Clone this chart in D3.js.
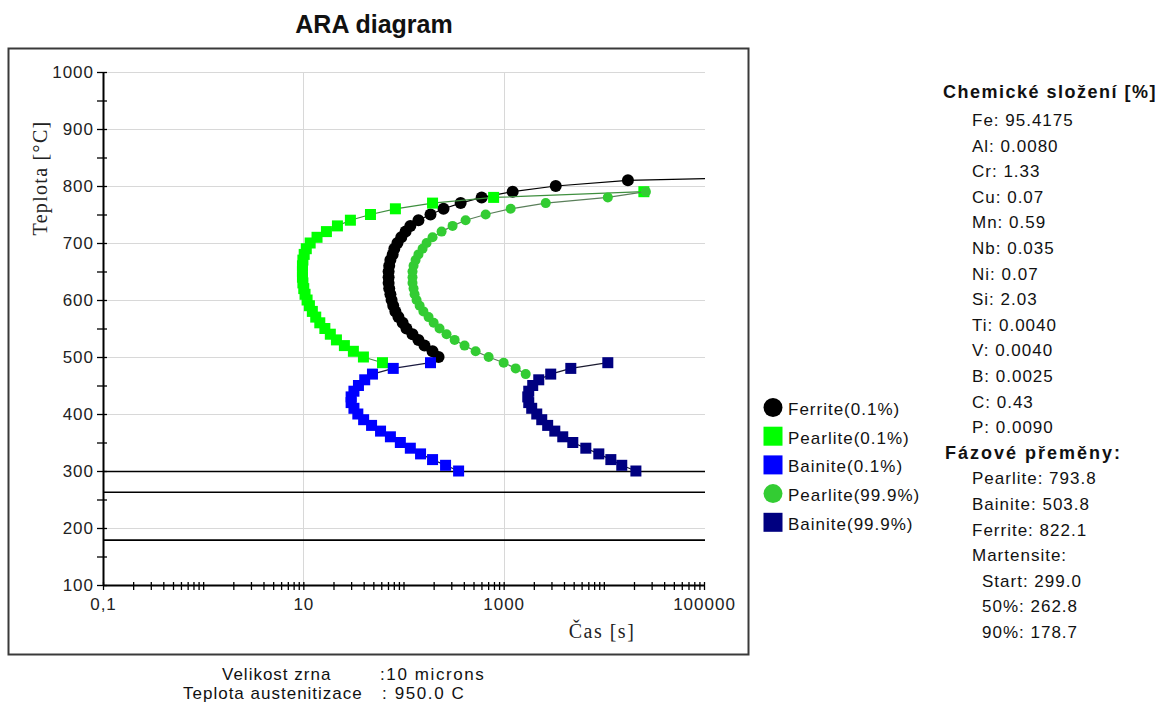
<!DOCTYPE html>
<html>
<head>
<meta charset="utf-8">
<script src="https://cdn.jsdelivr.net/npm/d3@7"></script>
<style>
  html, body { margin: 0; background: #fff; }
  svg { display: block; font-family: "Liberation Sans", Arial, sans-serif; }
</style>
</head>
<body>
<svg id="chart" width="1156" height="720"></svg>
<script>
// ARA (CCT) diagram. Points are [time in s, temperature in °C].
const ferrite01 = [
  [224, 500], [195, 510], [162, 520], [141, 530], [123, 540], [107, 550], [98, 560], [89, 570],
  [83, 580], [79, 590], [76, 600], [74, 610], [72, 620], [71, 630], [71, 640], [71, 650],
  [72, 660], [74, 670], [78, 680], [81, 690], [87, 700], [95, 710], [105, 720], [117, 730],
  [141, 740], [186, 750], [251, 760], [372, 770], [603, 780], [1230, 790], [3310, 800],
  [17400, 810], [400000, 815]
];
const pearlite01 = [
  [61.7, 490], [39.8, 500], [31.6, 510], [25.7, 520], [21.4, 530], [18.6, 540], [16.4, 550],
  [14.6, 560], [13.3, 570], [12.3, 580], [11.5, 590], [10.9, 600], [10.4, 610], [10.1, 620],
  [9.9, 630], [9.8, 640], [9.8, 650], [9.8, 660], [9.9, 670], [10.2, 680], [10.7, 690],
  [11.7, 700], [13.7, 710], [17.0, 720], [21.9, 730], [29.5, 740], [46.8, 750], [83, 760],
  [195, 770], [794, 780], [25100, 790]
];
const bainite01 = [
  [355, 300], [263, 310], [195, 320], [148, 330], [117, 340], [93, 350], [74, 360], [59, 370],
  [48, 380], [40, 390], [35, 400], [32, 410], [30, 420], [30, 430], [32, 440], [35.5, 450],
  [41, 460], [49, 470], [79, 480], [186, 490]
];
const pearlite999 = [
  [1660, 470], [1318, 480], [1000, 490], [708, 500], [525, 510], [407, 520], [324, 530],
  [269, 540], [229, 550], [200, 560], [178, 570], [158, 580], [145, 590], [135, 600],
  [129, 610], [126, 620], [123, 630], [123, 640], [123, 650], [126, 660], [132, 670],
  [141, 680], [155, 690], [170, 700], [195, 710], [240, 720], [309, 730], [417, 740],
  [661, 750], [1175, 760], [2630, 770], [10960, 780], [26300, 790]
];
const bainite999 = [
  [20900, 300], [15100, 310], [11750, 320], [8910, 330], [6610, 340], [4900, 350], [3890, 360],
  [3240, 370], [2750, 380], [2400, 390], [2140, 400], [1905, 410], [1780, 420], [1740, 430],
  [1780, 440], [1950, 450], [2240, 460], [2950, 470], [4680, 480], [10960, 490]
];

const martensiteTemps = [299.0, 262.8, 178.7];

const xLabelValues = [0.1, 10, 1000, 100000];
const xLabelTexts = ['0,1', '10', '1000', '100000'];
const xGridValues = [10, 1000];
const yLabelValues = [100, 200, 300, 400, 500, 600, 700, 800, 900, 1000];
const yMinorValues = [150, 250, 350, 450, 550, 650, 750, 850, 950];

const composition = [
  'Fe: 95.4175', 'Al: 0.0080', 'Cr: 1.33', 'Cu: 0.07', 'Mn: 0.59', 'Nb: 0.035', 'Ni: 0.07',
  'Si: 2.03', 'Ti: 0.0040', 'V: 0.0040', 'B: 0.0025', 'C: 0.43', 'P: 0.0090'
];
const phaseLines = ['Pearlite: 793.8', 'Bainite: 503.8', 'Ferrite: 822.1', 'Martensite:'];
const martensiteLines = ['Start: 299.0', '50%:  262.8', '90%:  178.7'];
const footerLabels = ['Velikost zrna', 'Teplota austenitizace'];
const footerValues = [':10 microns', ': 950.0 C'];

const series = [
  { name: 'Ferrite(0.1%)',    data: ferrite01,   fill: '#000000', stroke: '#000000', shape: 'circle', r: 6 },
  { name: 'Pearlite(0.1%)',   data: pearlite01,  fill: '#00ff00', stroke: '#3f8f3f', shape: 'square', r: 5.5 },
  { name: 'Bainite(0.1%)',    data: bainite01,   fill: '#0000ff', stroke: '#1a1a40', shape: 'square', r: 5.5 },
  { name: 'Pearlite(99.9%)',  data: pearlite999, fill: '#33cc33', stroke: '#5a7f5a', shape: 'circle', r: 5 },
  { name: 'Bainite(99.9%)',   data: bainite999,  fill: '#000080', stroke: '#1a1a30', shape: 'square', r: 5.5 }
];

const PLOT = { left: 103, right: 704, top: 72, bottom: 585 };
const SANS = { size: 17, spacing: 1 };

const svg = d3.select('#chart');
const x = d3.scaleLog().domain([0.1, 100000]).range([PLOT.left, PLOT.right]);
const y = d3.scaleLinear().domain([100, 1000]).range([PLOT.bottom, PLOT.top]);

svg.append('rect').attr('width', 1156).attr('height', 720).attr('fill', '#fff');

// Outer frame round the plot
svg.append('rect').attr('x', 8.5).attr('y', 48.5).attr('width', 740).attr('height', 606)
  .attr('fill', 'none').attr('stroke', '#3a3a3a').attr('stroke-width', 2);

svg.append('text').attr('x', 374).attr('y', 33).attr('text-anchor', 'middle')
  .attr('font-size', 25).attr('font-weight', 'bold').attr('fill', '#111').text('ARA diagram');

// Grid — light gray, only at labelled values
const grid = svg.append('g').attr('stroke', '#d8d8d8').attr('stroke-width', 1);
yLabelValues.filter((v) => v > 100).forEach((v) => {
  grid.append('line').attr('x1', PLOT.left).attr('x2', PLOT.right + 1)
    .attr('y1', Math.round(y(v)) + 0.5).attr('y2', Math.round(y(v)) + 0.5);
});
xGridValues.forEach((v) => {
  grid.append('line').attr('y1', PLOT.top).attr('y2', PLOT.bottom)
    .attr('x1', Math.round(x(v)) + 0.5).attr('x2', Math.round(x(v)) + 0.5);
});

// Martensite start / 50% / 90% lines
martensiteTemps.forEach((t) => {
  svg.append('line').attr('x1', PLOT.left).attr('x2', PLOT.right + 1)
    .attr('y1', y(t)).attr('y2', y(t)).attr('stroke', '#000').attr('stroke-width', 1.6);
});

// Axes
const xTicks = d3.range(-1, 5).flatMap((e) => d3.range(1, 10).map((k) => k * 10 ** e)).concat([100000]);
svg.append('g').attr('transform', `translate(0,${PLOT.bottom})`)
  .call(d3.axisBottom(x).tickValues(xTicks).tickSizeOuter(0)
    .tickFormat((d) => { const i = xLabelValues.indexOf(d); return i >= 0 ? xLabelTexts[i] : ''; }))
  .call((g) => {
    g.select('.domain').attr('stroke', '#000').attr('stroke-width', 2);
    g.selectAll('.tick line').attr('y1', -3).attr('y2', 5).attr('stroke', '#000').attr('stroke-width', 1.3);
    g.selectAll('.tick text').attr('y', 13).attr('fill', '#222')
      .attr('font-family', '"Liberation Sans", Arial, sans-serif')
      .attr('font-size', SANS.size).attr('letter-spacing', SANS.spacing);
  });

svg.append('g').attr('transform', `translate(${PLOT.left},0)`)
  .call(d3.axisLeft(y).tickValues(yLabelValues.concat(yMinorValues)).tickSizeOuter(0)
    .tickFormat((d) => (yLabelValues.includes(d) ? String(d) : '')))
  .call((g) => {
    g.select('.domain').attr('stroke', '#000').attr('stroke-width', 2);
    g.selectAll('.tick line').attr('x1', -6).attr('x2', 4).attr('stroke', '#000').attr('stroke-width', 1.3);
    g.selectAll('.tick text').attr('x', -9).attr('fill', '#222')
      .attr('font-family', '"Liberation Sans", Arial, sans-serif')
      .attr('font-size', SANS.size).attr('letter-spacing', SANS.spacing);
  });

svg.append('text').attr('transform', 'translate(47,178) rotate(-90)').attr('text-anchor', 'middle')
  .attr('font-family', '"Liberation Serif", "Times New Roman", serif').attr('font-size', 20)
  .attr('letter-spacing', 1.3).attr('fill', '#222').text('Teplota [°C]');
svg.append('text').attr('x', 602).attr('y', 638).attr('text-anchor', 'middle')
  .attr('font-family', '"Liberation Serif", "Times New Roman", serif').attr('font-size', 20)
  .attr('letter-spacing', 1.5).attr('fill', '#222').text('Čas [s]');

// Series — thin connecting line plus a marker per point, clipped to the plot
svg.append('clipPath').attr('id', 'plot-clip').append('rect')
  .attr('x', PLOT.left).attr('y', PLOT.top).attr('width', PLOT.right - PLOT.left + 1)
  .attr('height', PLOT.bottom - PLOT.top);
const plot = svg.append('g').attr('clip-path', 'url(#plot-clip)');
const line = d3.line().x((d) => x(d[0])).y((d) => y(d[1]));

function marker(sel, s, r) {
  if (s.shape === 'circle') {
    return sel.append('circle').attr('r', r).attr('fill', s.fill);
  }
  return sel.append('rect').attr('x', -r).attr('y', -r).attr('width', 2 * r).attr('height', 2 * r)
    .attr('fill', s.fill);
}

series.forEach((s) => {
  plot.append('path').datum(s.data).attr('d', line).attr('fill', 'none')
    .attr('stroke', s.stroke).attr('stroke-width', 1.2);
  s.data.forEach((d) => {
    const g = plot.append('g').attr('transform', `translate(${x(d[0])},${y(d[1])})`);
    marker(g, s, s.r);
  });
});

// Legend
const legend = svg.append('g');
series.forEach((s, i) => {
  const ry = 409 + i * 28.7;
  const g = legend.append('g').attr('transform', `translate(773,${ry - 1.5})`);
  marker(g, s, 9.5);
  legend.append('text').attr('x', 788).attr('y', ry).attr('dy', '0.35em')
    .attr('font-size', SANS.size).attr('letter-spacing', SANS.spacing).attr('fill', '#111').text(s.name);
});

// Side panel: composition and transformation temperatures
const ROW0 = 120, ROW = 25.6;
const side = svg.append('g').attr('font-size', SANS.size).attr('letter-spacing', SANS.spacing)
  .attr('fill', '#111').style('white-space', 'pre');
side.append('text').attr('x', 943).attr('y', ROW0 - 28).attr('dy', '0.35em')
  .attr('font-weight', 'bold').attr('font-size', 18).attr('letter-spacing', 1.5).text('Chemické složení [%]');
composition.forEach((t, i) => {
  side.append('text').attr('x', 972).attr('y', ROW0 + i * ROW).attr('dy', '0.35em').text(t);
});
const phaseRow = composition.length;
side.append('text').attr('x', 945).attr('y', ROW0 + phaseRow * ROW).attr('dy', '0.35em')
  .attr('font-weight', 'bold').attr('font-size', 18).attr('letter-spacing', 2).text('Fázové přeměny:');
phaseLines.forEach((t, i) => {
  side.append('text').attr('x', 972).attr('y', ROW0 + (phaseRow + 1 + i) * ROW).attr('dy', '0.35em').text(t);
});
martensiteLines.forEach((t, i) => {
  side.append('text').attr('x', 982).attr('y', ROW0 + (phaseRow + 1 + phaseLines.length + i) * ROW)
    .attr('dy', '0.35em').text(t);
});

// Footer below the frame — labels, then values lined up on the colon
const footLabelX = [222, 183];
const footValueX = 380;
footerLabels.forEach((t, i) => {
  const fy = 674 + i * 19;
  svg.append('text').attr('x', footLabelX[i]).attr('y', fy).attr('dy', '0.35em')
    .attr('font-size', SANS.size).attr('letter-spacing', SANS.spacing).attr('fill', '#111').text(t);
  svg.append('text').attr('x', footValueX + i * 2).attr('y', fy).attr('dy', '0.35em')
    .attr('font-size', SANS.size).attr('letter-spacing', 1.6).attr('fill', '#111')
    .style('white-space', 'pre').text(footerValues[i]);
});
</script>
</body>
</html>
